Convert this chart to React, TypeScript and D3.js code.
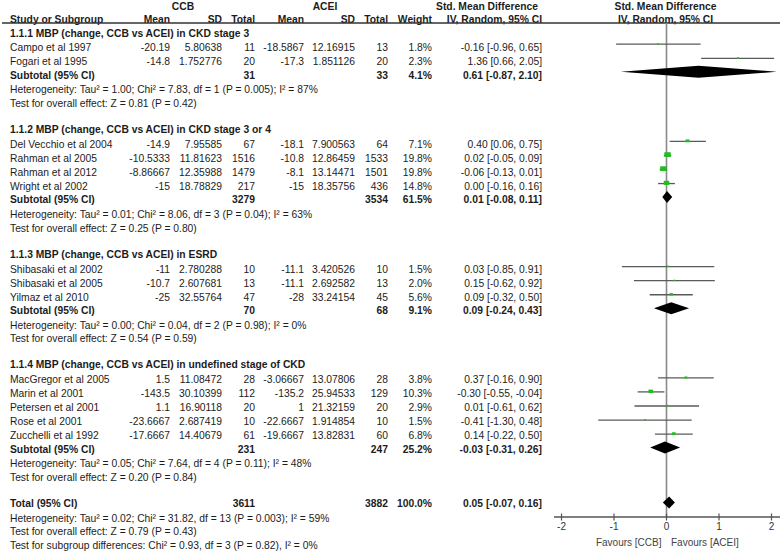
import React from "react";
import * as d3 from "d3";

// ---------- data ----------
const groupTitles = [
  "1.1.1 MBP (change, CCB vs ACEI) in CKD stage 3",
  "1.1.2 MBP (change, CCB vs ACEI) in CKD stage 3 or 4",
  "1.1.3 MBP (change, CCB vs ACEI) in ESRD",
  "1.1.4 MBP (change, CCB vs ACEI) in undefined stage of CKD",
];
const studyGroup = [0, 0, 1, 1, 1, 1, 2, 2, 2, 3, 3, 3, 3, 3];
const studyNames = [
  "Campo et al 1997", "Fogari et al 1995",
  "Del Vecchio et al 2004", "Rahman et al 2005", "Rahman et al 2012", "Wright et al 2002",
  "Shibasaki et al 2002", "Shibasaki et al 2005", "Yilmaz et al 2010",
  "MacGregor et al 2005", "Marin et al 2001", "Petersen et al 2001", "Rose et al 2001", "Zucchelli et al 1992",
];
const ccbMean = [-20.19, -14.8, -14.9, -10.5333, -8.86667, -15, -11, -10.7, -25, 1.5, -143.5, 1.1, -23.6667, -17.6667];
const ccbSD = [5.80638, 1.752776, 7.95585, 11.81623, 12.35988, 18.78829, 2.780288, 2.607681, 32.55764, 11.08472, 30.10399, 16.90118, 2.687419, 14.40679];
const ccbTotal = [11, 20, 67, 1516, 1479, 217, 10, 13, 47, 28, 112, 20, 10, 61];
const aceiMean = [-18.5867, -17.3, -18.1, -10.8, -8.1, -15, -11.1, -11.1, -28, -3.06667, -135.2, 1, -22.6667, -19.6667];
const aceiSD = [12.16915, 1.851126, 7.900563, 12.86459, 13.14471, 18.35756, 3.420526, 2.692582, 33.24154, 13.07806, 25.94533, 21.32159, 1.914854, 13.82831];
const aceiTotal = [13, 20, 64, 1533, 1501, 436, 10, 13, 45, 28, 129, 20, 10, 60];
const studyWeight = [1.8, 2.3, 7.1, 19.8, 19.8, 14.8, 1.5, 2.0, 5.6, 3.8, 10.3, 2.9, 1.5, 6.8];
const studySMD = [-0.16, 1.36, 0.40, 0.02, -0.06, 0.00, 0.03, 0.15, 0.09, 0.37, -0.30, 0.01, -0.41, 0.14];
const studyLow = [-0.96, 0.66, 0.06, -0.05, -0.13, -0.16, -0.85, -0.62, -0.32, -0.16, -0.55, -0.61, -1.30, -0.22];
const studyHigh = [0.65, 2.05, 0.75, 0.09, 0.01, 0.16, 0.91, 0.92, 0.50, 0.90, -0.04, 0.62, 0.48, 0.50];

const subCcbTotal = [31, 3279, 70, 231];
const subAceiTotal = [33, 3534, 68, 247];
const subWeight = [4.1, 61.5, 9.1, 25.2];
const subSMD = [0.61, 0.01, 0.09, -0.03];
const subLow = [-0.87, -0.08, -0.24, -0.31];
const subHigh = [2.10, 0.11, 0.43, 0.26];
const subHetero = [
  "Heterogeneity: Tau² = 1.00; Chi² = 7.83, df = 1 (P = 0.005); I² = 87%",
  "Heterogeneity: Tau² = 0.01; Chi² = 8.06, df = 3 (P = 0.04); I² = 63%",
  "Heterogeneity: Tau² = 0.00; Chi² = 0.04, df = 2 (P = 0.98); I² = 0%",
  "Heterogeneity: Tau² = 0.05; Chi² = 7.64, df = 4 (P = 0.11); I² = 48%",
];
const subTest = [
  "Test for overall effect: Z = 0.81 (P = 0.42)",
  "Test for overall effect: Z = 0.25 (P = 0.80)",
  "Test for overall effect: Z = 0.54 (P = 0.59)",
  "Test for overall effect: Z = 0.20 (P = 0.84)",
];

const totalCcb = 3611;
const totalAcei = 3882;
const totalWeight = 100.0;
const totalSMD = [0.05, -0.07, 0.16];
const totalNotes = [
  "Heterogeneity: Tau² = 0.02; Chi² = 31.82, df = 13 (P = 0.003); I² = 59%",
  "Test for overall effect: Z = 0.79 (P = 0.43)",
  "Test for subgroup differences: Chi² = 0.93, df = 3 (P = 0.82), I² = 0%",
];
const axisTicks = [-2, -1, 0, 1, 2];
const favoursLabels = ["Favours [CCB]", "Favours [ACEI]"];

// ---------- layout ----------
const W = 784;
const H = 553;
const FONT = "'Liberation Sans', Arial, sans-serif";
const FS = 10.3;
const TXT = "#1c1c1c";
const GREEN = "#1fbf1f";

const col = {
  name: 10,
  ccbMean: 170,
  ccbSD: 222,
  ccbTotal: 255,
  aceiMean: 304,
  aceiSD: 355,
  aceiTotal: 388,
  weight: 432,
  ci: 542,
};

const x = d3.scaleLinear().domain([-2, 2]).range([561.5, 771.5]);
const sizeScale = d3.scaleSqrt().domain([0, 20]).range([0, 6.4]);

type Row =
  | { kind: "title"; y: number; text: string }
  | { kind: "study"; y: number; i: number }
  | { kind: "sub"; y: number; g: number }
  | { kind: "note"; y: number; text: string }
  | { kind: "total"; y: number };

function buildRows(): Row[] {
  const rows: Row[] = [];
  let y = 33;
  groupTitles.forEach((t, g) => {
    rows.push({ kind: "title", y, text: t });
    y += 14.7;
    const idx = studyGroup.map((gg, i) => (gg === g ? i : -1)).filter((i) => i >= 0);
    idx.forEach((i, k) => {
      if (k > 0) y += 14;
      rows.push({ kind: "study", y, i });
    });
    y += 13.4;
    rows.push({ kind: "sub", y, g });
    y += 14.6;
    rows.push({ kind: "note", y, text: subHetero[g] });
    y += 13.9;
    rows.push({ kind: "note", y, text: subTest[g] });
    y += 26;
  });
  rows.push({ kind: "total", y });
  y += 14.6;
  rows.push({ kind: "note", y, text: totalNotes[0] });
  y += 13.6;
  rows.push({ kind: "note", y, text: totalNotes[1] });
  y += 14;
  rows.push({ kind: "note", y, text: totalNotes[2] });
  return rows;
}

const markY = (y: number) => y - 3.5 + (2.5 * (y - 48)) / (503 - 48);
const f2 = (v: number) => v.toFixed(2);
const ciText = (m: number, lo: number, hi: number) => `${f2(m)} [${f2(lo)}, ${f2(hi)}]`;

function T(props: {
  x: number;
  y: number;
  children: React.ReactNode;
  anchor?: "start" | "middle" | "end";
  bold?: boolean;
  size?: number;
  fill?: string;
}) {
  return (
    <text
      x={props.x}
      y={props.y}
      dy="0.35em"
      textAnchor={props.anchor || "start"}
      fontWeight={props.bold ? "bold" : "normal"}
      fontSize={props.size || FS}
      fill={props.fill || TXT}
    >
      {props.children}
    </text>
  );
}

function Diamond({ y, m, lo, hi }: { y: number; m: number; lo: number; hi: number }) {
  const h = 6;
  const path = d3.path();
  path.moveTo(x(lo), y);
  path.lineTo(x(m), y - h);
  path.lineTo(x(hi), y);
  path.lineTo(x(m), y + h);
  path.closePath();
  return <path d={path.toString()} fill="#000" />;
}

export default function App() {
  const rows = buildRows();
  const axisY = 517;
  const zeroTop = 23;
  return (
    <svg
      width={W}
      height={H}
      style={{ position: "fixed", left: 0, top: 0, background: "#fff" }}
      fontFamily={FONT}
    >
      <rect width={W} height={H} fill="#fff" />
      {/* headers */}
      <T x={183} y={6} anchor="middle" bold>CCB</T>
      <T x={325} y={6} anchor="middle" bold>ACEI</T>
      <T x={487} y={6} anchor="middle" bold>Std. Mean Difference</T>
      <T x={665.5} y={6} anchor="middle" bold>Std. Mean Difference</T>
      <T x={col.name} y={19} bold>Study or Subgroup</T>
      <T x={col.ccbMean} y={19} anchor="end" bold>Mean</T>
      <T x={col.ccbSD} y={19} anchor="end" bold>SD</T>
      <T x={col.ccbTotal} y={19} anchor="end" bold>Total</T>
      <T x={col.aceiMean} y={19} anchor="end" bold>Mean</T>
      <T x={col.aceiSD} y={19} anchor="end" bold>SD</T>
      <T x={col.aceiTotal} y={19} anchor="end" bold>Total</T>
      <T x={col.weight} y={19} anchor="end" bold>Weight</T>
      <T x={col.ci} y={19} anchor="end" bold>IV, Random, 95% CI</T>
      <T x={665.5} y={19} anchor="middle" bold>IV, Random, 95% CI</T>
      <line x1={2} x2={780} y1={23} y2={23} stroke="#333" strokeWidth={1.3} />

      {/* zero line */}
      <line x1={x(0)} x2={x(0)} y1={zeroTop} y2={axisY} stroke="#8a8a8a" strokeWidth={1.6} />

      {rows.map((r, k) => {
        if (r.kind === "title") return <T key={k} x={col.name} y={r.y} bold>{r.text}</T>;
        if (r.kind === "note") return <T key={k} x={col.name} y={r.y}>{r.text}</T>;
        if (r.kind === "study") {
          const i = r.i;
          const my = markY(r.y);
          const s = Math.max(2, sizeScale(studyWeight[i]));
          return (
            <g key={k}>
              <T x={col.name} y={r.y}>{studyNames[i]}</T>
              <T x={col.ccbMean} y={r.y} anchor="end">{String(ccbMean[i])}</T>
              <T x={col.ccbSD} y={r.y} anchor="end">{String(ccbSD[i])}</T>
              <T x={col.ccbTotal} y={r.y} anchor="end">{String(ccbTotal[i])}</T>
              <T x={col.aceiMean} y={r.y} anchor="end">{String(aceiMean[i])}</T>
              <T x={col.aceiSD} y={r.y} anchor="end">{String(aceiSD[i])}</T>
              <T x={col.aceiTotal} y={r.y} anchor="end">{String(aceiTotal[i])}</T>
              <T x={col.weight} y={r.y} anchor="end">{studyWeight[i].toFixed(1) + "%"}</T>
              <T x={col.ci} y={r.y} anchor="end">{ciText(studySMD[i], studyLow[i], studyHigh[i])}</T>
              <line x1={x(studyLow[i])} x2={x(studyHigh[i])} y1={my} y2={my} stroke="#5a5a5a" strokeWidth={1.3} />
              <rect x={x(studySMD[i]) - s / 2} y={my - s / 2} width={s} height={s * 0.75} fill={GREEN} />
            </g>
          );
        }
        if (r.kind === "sub") {
          const g = r.g;
          return (
            <g key={k}>
              <T x={col.name} y={r.y} bold>Subtotal (95% CI)</T>
              <T x={col.ccbTotal} y={r.y} anchor="end" bold>{String(subCcbTotal[g])}</T>
              <T x={col.aceiTotal} y={r.y} anchor="end" bold>{String(subAceiTotal[g])}</T>
              <T x={col.weight} y={r.y} anchor="end" bold>{subWeight[g].toFixed(1) + "%"}</T>
              <T x={col.ci} y={r.y} anchor="end" bold>{ciText(subSMD[g], subLow[g], subHigh[g])}</T>
              <Diamond y={markY(r.y)} m={subSMD[g]} lo={subLow[g]} hi={subHigh[g]} />
            </g>
          );
        }
        return (
          <g key={k}>
            <T x={col.name} y={r.y} bold>Total (95% CI)</T>
            <T x={col.ccbTotal} y={r.y} anchor="end" bold>{String(totalCcb)}</T>
            <T x={col.aceiTotal} y={r.y} anchor="end" bold>{String(totalAcei)}</T>
            <T x={col.weight} y={r.y} anchor="end" bold>{totalWeight.toFixed(1) + "%"}</T>
            <T x={col.ci} y={r.y} anchor="end" bold>{ciText(totalSMD[0], totalSMD[1], totalSMD[2])}</T>
            <Diamond y={markY(r.y)} m={totalSMD[0]} lo={totalSMD[1]} hi={totalSMD[2]} />
          </g>
        );
      })}

      {/* axis */}
      <line x1={554} x2={780} y1={axisY} y2={axisY} stroke="#555" strokeWidth={1.4} />
      {axisTicks.map((t) => (
        <g key={t}>
          <line x1={x(t)} x2={x(t)} y1={axisY - 3.5} y2={axisY + 3.5} stroke="#555" strokeWidth={1.2} />
          <T x={x(t)} y={526} anchor="middle" size={10} fill="#333">{String(t)}</T>
        </g>
      ))}
      <T x={x(0) - 5} y={542} anchor="end" size={10} fill="#444">{favoursLabels[0]}</T>
      <T x={x(0) + 4.5} y={542} anchor="start" size={10} fill="#444">{favoursLabels[1]}</T>
    </svg>
  );
}
